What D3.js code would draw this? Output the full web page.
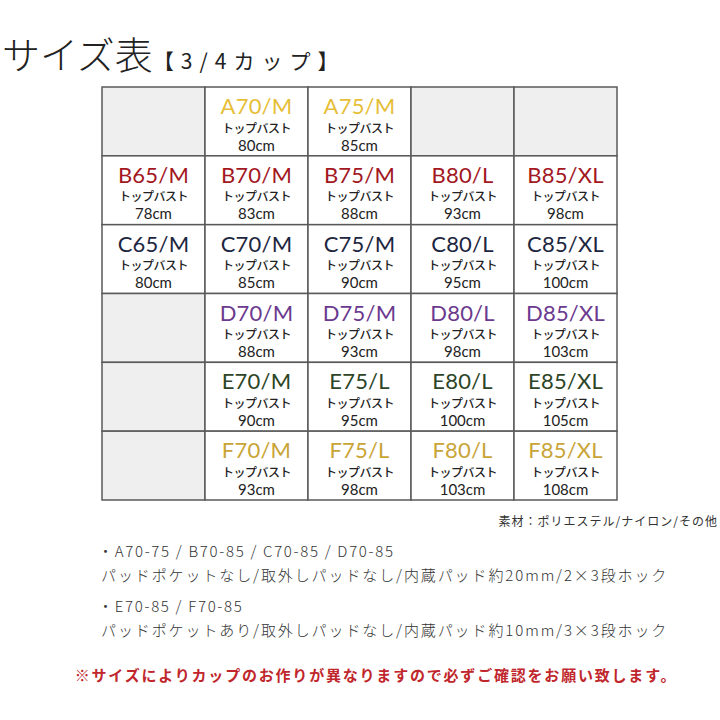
<!DOCTYPE html>
<html>
<head>
<meta charset="utf-8">
<script src="https://cdn.jsdelivr.net/npm/d3@7"></script>
<style>
  body { margin: 0; background: #fff; }
  text { font-family: "Noto Sans CJK JP", "Noto Sans", sans-serif; }
  .latin { font-family: Lato, "Open Sans", sans-serif; }
</style>
</head>
<body>
<div id="chart"></div>
<script>
var cups = ["A", "B", "C", "D", "E", "F"];
var bands = [65, 70, 75, 80, 85];
// fit size per cell (null = no size)
var fits = [
  [null, "M", "M", null, null],
  ["M", "M", "M", "L", "XL"],
  ["M", "M", "M", "L", "XL"],
  [null, "M", "M", "L", "XL"],
  [null, "M", "L", "L", "XL"],
  [null, "M", "L", "L", "XL"]
];
// top bust in cm
var topBust = [
  [null, 80, 85, null, null],
  [78, 83, 88, 93, 98],
  [80, 85, 90, 95, 100],
  [null, 88, 93, 98, 103],
  [null, 90, 95, 100, 105],
  [null, 93, 98, 103, 108]
];
var cupColors = ["#e6be38", "#a3171f", "#1d2640", "#6b3a8e", "#2d4526", "#c9a436"];
var notes = [
  ["・A70-75 / B70-85 / C70-85 / D70-85", "パッドポケットなし/取外しパッドなし/内蔵パッド約20mm/2×3段ホック"],
  ["・E70-85 / F70-85", "パッドポケットあり/取外しパッドなし/内蔵パッド約10mm/3×3段ホック"]
];

var width = 720, height = 720;

var svg = d3.select("#chart").append("svg")
  .attr("width", width)
  .attr("height", height);

var x = d3.scaleBand().domain(bands).range([102, 617]);
var y = d3.scaleBand().domain(cups).range([87, 500]);

// title
var title = svg.append("text")
  .attr("x", 2)
  .attr("y", 69)
  .attr("fill", "#222");
title.append("tspan")
  .attr("font-size", 38)
  .attr("font-weight", 300)
  .text("サイズ表");
title.append("tspan")
  .attr("font-size", 21)
  .attr("letter-spacing", 7)
  .text("【3/4カップ】");

var cells = [];
cups.forEach(function (c, i) {
  bands.forEach(function (b, j) {
    cells.push({ cup: c, band: b, fit: fits[i][j], top: topBust[i][j], color: cupColors[i] });
  });
});

var cell = svg.selectAll(".cell")
  .data(cells)
  .enter().append("g")
  .attr("class", "cell")
  .attr("transform", function (d) { return "translate(" + x(d.band) + "," + y(d.cup) + ")"; });

cell.append("rect")
  .attr("width", x.bandwidth())
  .attr("height", y.bandwidth())
  .attr("fill", function (d) { return d.fit ? "#fff" : "#efefef"; })
  .attr("stroke", "#5a5a5a")
  .attr("stroke-width", 1.5);

var filled = cell.filter(function (d) { return d.fit; });
var cx = x.bandwidth() / 2;

filled.append("text")
  .attr("class", "latin")
  .attr("x", cx)
  .attr("y", 27)
  .attr("text-anchor", "middle")
  .attr("font-size", 22)
  .attr("letter-spacing", 0.2)
  .attr("fill", function (d) { return d.color; })
  .text(function (d) { return d.cup + d.band + "/" + d.fit; });

filled.append("text")
  .attr("x", cx)
  .attr("y", 45.5)
  .attr("text-anchor", "middle")
  .attr("font-size", 12)
  .attr("font-weight", 500)
  .attr("letter-spacing", -0.5)
  .attr("fill", "#222")
  .text("トップバスト");

filled.append("text")
  .attr("class", "latin")
  .attr("x", cx)
  .attr("y", 63.5)
  .attr("text-anchor", "middle")
  .attr("font-size", 15)
  .attr("fill", "#222")
  .text(function (d) { return d.top + "cm"; });

// material
svg.append("text")
  .attr("x", 718)
  .attr("y", 526)
  .attr("text-anchor", "end")
  .attr("font-size", 12)
  .attr("letter-spacing", 1)
  .attr("fill", "#333")
  .text("素材：ポリエステル/ナイロン/その他");

var note = svg.selectAll(".note")
  .data(notes)
  .enter().append("g")
  .attr("class", "note")
  .attr("transform", function (d, i) { return "translate(0," + (i * 55) + ")"; });

note.append("text")
  .attr("x", 98)
  .attr("y", 557)
  .attr("font-size", 15)
  .attr("letter-spacing", 1.7)
  .attr("font-weight", 300)
  .attr("fill", "#333")
  .text(function (d) { return d[0]; });

note.append("text")
  .attr("x", 101)
  .attr("y", 581)
  .attr("font-size", 15)
  .attr("letter-spacing", 1.9)
  .attr("font-weight", 300)
  .attr("fill", "#333")
  .text(function (d) { return d[1]; });

svg.append("text")
  .attr("x", 376)
  .attr("y", 681)
  .attr("text-anchor", "middle")
  .attr("font-size", 15)
  .attr("font-weight", "bold")
  .attr("letter-spacing", 1.8)
  .attr("fill", "#c0262b")
  .text("※サイズによりカップのお作りが異なりますので必ずご確認をお願い致します。");
</script>
</body>
</html>
